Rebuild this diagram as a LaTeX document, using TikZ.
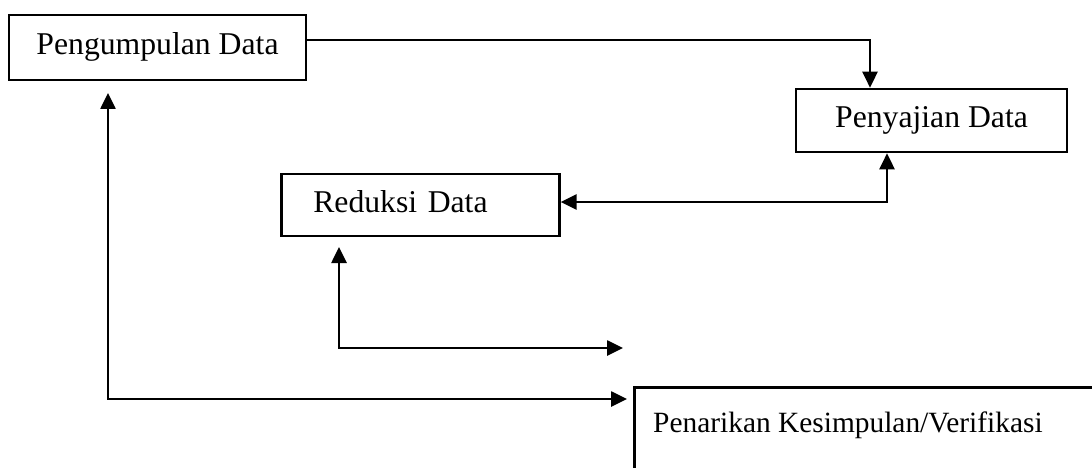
\documentclass[tikz,border=0pt]{standalone}
\usepackage{fontspec}
\setmainfont{Liberation Serif}
\usetikzlibrary{arrows.meta}
\begin{document}
\begin{tikzpicture}[x=1pt,y=-1pt,
  box/.style={draw=black, line width=2.6pt, rectangle, inner sep=0pt,
    font=\fontsize{31.7}{38}\selectfont, text height=22pt, text depth=7pt},
  lbl/.style={inner sep=0pt, font=\fontsize{29.4}{36}\selectfont},
  conn/.style={draw=black, line width=2.6pt},
  tip/.tip={Triangle[length=16pt,width=15pt]}]
\useasboundingbox (0,0) rectangle (1092,468);
\clip (0,0) rectangle (1092,468);
% boxes
\node[box, minimum width=297pt, minimum height=65pt] (A) at (157.5,47.5) {Pengumpulan Data};
\node[box, minimum width=271pt, minimum height=63pt] (B) at (931.5,120.5) {Penyajian Data};
\node[box, anchor=west, text width=214pt, inner xsep=32pt, align=left, minimum height=62pt] (C) at (280,205) {Reduksi Data};
\node[box, anchor=north west, minimum width=520pt, minimum height=130pt] (D) at (633,386) {};
\node[lbl, anchor=base west] (Dt) at (653,432) {Penarikan Kesimpulan/Verifikasi};
% helper points
\coordinate (t1) at (870,40);
\coordinate (t2) at (887,202);
\coordinate (t3) at (339,348);
\coordinate (e3) at (623,348);
\coordinate (c3) at (339,247);
\coordinate (t4) at (108,399);
\coordinate (a4) at (108,93);
\coordinate (e4) at (627,399);
% connectors
\draw[conn, -{tip}] (A.east |- t1) -- (t1) -- (t1 |- B.north);
\draw[conn, {tip}-{tip}] (C.east |- t2) -- (t2) -- (t2 |- B.south);
\draw[conn, {tip}-{tip}] (c3) -- (t3) -- (e3);
\draw[conn, {tip}-{tip}] (a4) -- (t4) -- (e4);
\end{tikzpicture}
\end{document}
